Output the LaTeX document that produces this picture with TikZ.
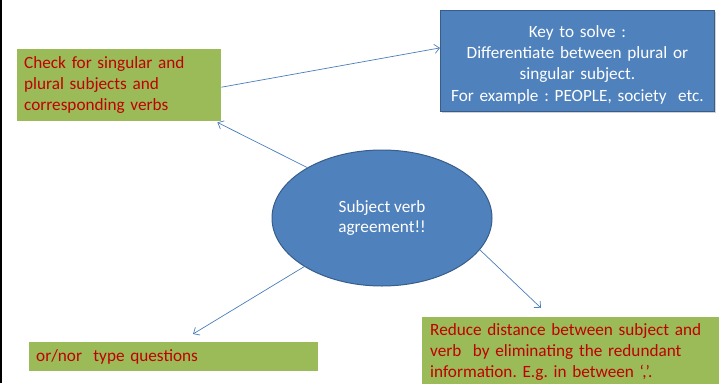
\documentclass[tikz,border=0pt]{standalone}
\usepackage{fontspec}
\setmainfont{Carlito}
\usetikzlibrary{arrows.meta,shapes.geometric,shadows}
\definecolor{gfill}{HTML}{9BBB59}
\definecolor{bfill}{HTML}{4F81BD}
\definecolor{bdraw}{HTML}{385D8A}
\definecolor{rtext}{HTML}{C00000}
\definecolor{lcol}{HTML}{4A7EBB}
\frenchspacing
\begin{document}
\begin{tikzpicture}[x=1pt,y=-1pt,
  txt/.style={font=\fontsize{17.2}{20.8}\selectfont},
  gbox/.style={txt,fill=gfill,text=rtext,draw=none,align=left,anchor=north west,inner xsep=7pt,inner ysep=0pt},
  bbox/.style={txt,fill=bfill,draw=bdraw,line width=0.8pt,text=white,align=center,anchor=north west,
    drop shadow={shadow xshift=1.5pt,shadow yshift=-1.5pt,opacity=0.35}},
  conn/.style={draw=lcol,line width=0.7pt,-{Straight Barb[length=5pt,width=9pt]}}]
\useasboundingbox (0,0) rectangle (719,383);
\fill[black] (0,0) rectangle (1.5,383);
\node[bbox,minimum width=274,minimum height=101,text width=266,inner ysep=3pt] (key) at (440,10)
  {\rule{0pt}{20pt}Key to solve :\\Differentiate between plural or\\singular subject.\\[1pt]For example : PEOPLE, society\ \ etc.};
\node[gbox,minimum width=200,minimum height=72,text width=190] (g1) at (17,49)
  {Check for singular and\\plural subjects and\\corresponding verbs};
\node[gbox,minimum width=287,minimum height=29,text width=275] (g2) at (29,342)
  {or/nor\ \ type questions};
\node[gbox,minimum width=300,minimum height=70,text width=290,anchor=north west,inner ysep=4pt,inner xsep=8pt] (g3) at (422,317)
  {Reduce distance between subject and\\verb\ \ by eliminating the redundant\\information. E.g. in between ‘,’.};
\node[ellipse,fill=bfill,draw=bdraw,line width=1pt,minimum width=220,minimum height=136,inner sep=0pt,
  txt,text=white,align=center] (ell) at (382,218) {Subject verb\\agreement!!};
\coordinate (t2) at (193,334);
\coordinate (t3) at (541,308);
\draw[conn] ([yshift=-2pt]g1.east) -- ([yshift=13pt]key.west);
\draw[conn] (ell.146) -- ([xshift=-4pt,yshift=-1pt]g1.south east);
\draw[conn] (ell.212) -- (t2);
\draw[conn] (ell.342) -- (t3);
\end{tikzpicture}
\end{document}
